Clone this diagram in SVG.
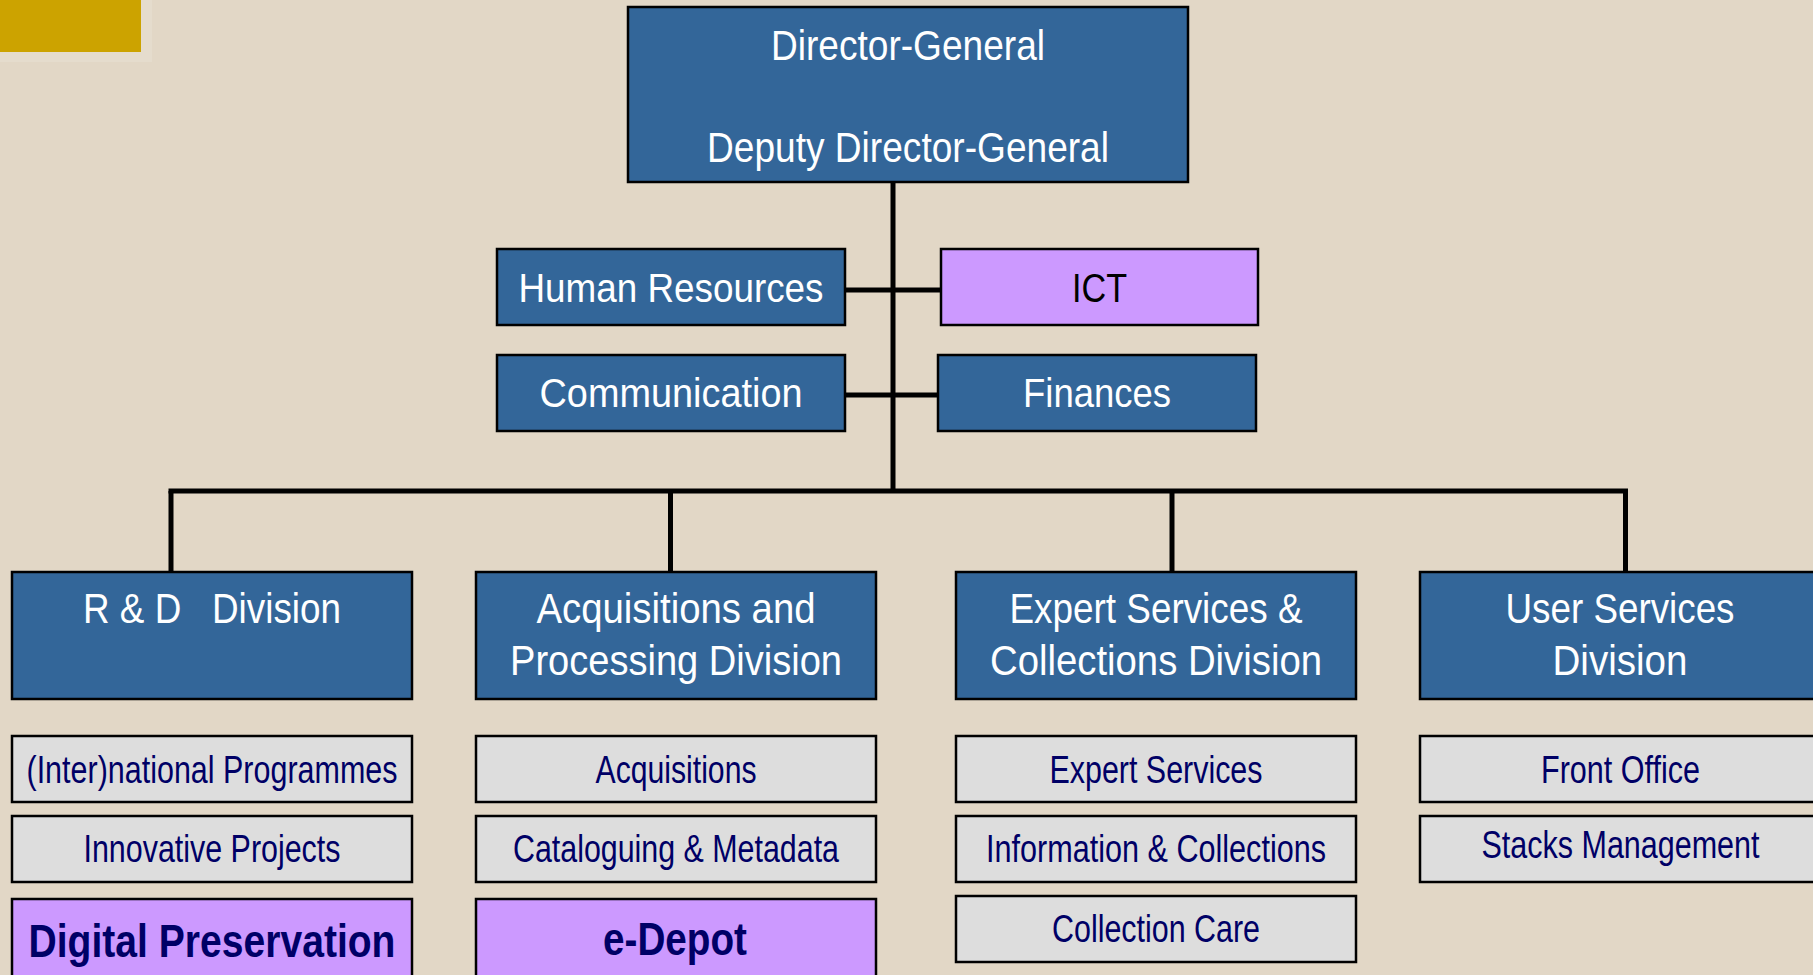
<svg xmlns="http://www.w3.org/2000/svg" width="1813" height="975" viewBox="0 0 1813 975">
<style>
.bg{fill:#E2D7C6}
.box{stroke:#000;stroke-width:2.5}
.blue{fill:#336699}
.grey{fill:#DDDDDD}
.purple{fill:#CC99FF}
text{font-family:"Liberation Sans Narrow","Arial Narrow","Liberation Sans",Arial,sans-serif;text-anchor:middle}
.w{fill:#FFFFFF}
.n{fill:#000066}
.k{fill:#000000}
.t43{font-size:43px}
.t41{font-size:41px}
.t42{font-size:42px}
.t38{font-size:38px}
.b47{font-size:47px;font-weight:bold}
.line{stroke:#000;stroke-width:5;fill:none}
</style>
<rect class="bg" x="0" y="0" width="1813" height="975"/>
<rect x="0" y="0" width="152" height="62" fill="#E5DCCD"/>
<rect x="0" y="0" width="141" height="52" fill="#CCA300"/>

<g id="connectors">
<line class="line" x1="893" y1="182" x2="893" y2="493"/>
<line class="line" x1="845" y1="290" x2="941" y2="290"/>
<line class="line" x1="845" y1="395" x2="938" y2="395"/>
<line class="line" x1="168.5" y1="491" x2="1628" y2="491" stroke-width="6"/>
<line class="line" x1="171" y1="491" x2="171" y2="572"/>
<line class="line" x1="670.5" y1="491" x2="670.5" y2="572"/>
<line class="line" x1="1172" y1="491" x2="1172" y2="572"/>
<line class="line" x1="1625.5" y1="491" x2="1625.5" y2="572"/>
</g>

<g id="director-general">
<rect class="box blue" x="628" y="7" width="560" height="175"/>
<text class="w t43" x="908" y="60" textLength="274" lengthAdjust="spacingAndGlyphs">Director-General</text>
<text class="w t43" x="908" y="162" textLength="402" lengthAdjust="spacingAndGlyphs">Deputy Director-General</text>
</g>

<g id="human-resources">
<rect class="box blue" x="497" y="249" width="348" height="76"/>
<text class="w t41" x="671" y="302" textLength="305" lengthAdjust="spacingAndGlyphs">Human Resources</text>
</g>

<g id="ict">
<rect class="box purple" x="941" y="249" width="317" height="76"/>
<text class="k t41" x="1099.5" y="302" textLength="55" lengthAdjust="spacingAndGlyphs">ICT</text>
</g>

<g id="communication">
<rect class="box blue" x="497" y="355" width="348" height="76"/>
<text class="w t41" x="671" y="407" textLength="263" lengthAdjust="spacingAndGlyphs">Communication</text>
</g>

<g id="finances">
<rect class="box blue" x="938" y="355" width="318" height="76"/>
<text class="w t41" x="1097" y="407" textLength="148" lengthAdjust="spacingAndGlyphs">Finances</text>
</g>

<g id="rd-division">
<rect class="box blue" x="12" y="572" width="400" height="127"/>
<text class="w t42" x="212" y="623" textLength="258" lengthAdjust="spacingAndGlyphs" xml:space="preserve">R &amp; D   Division</text>
</g>

<g id="acq-division">
<rect class="box blue" x="476" y="572" width="400" height="127"/>
<text class="w t42" x="676" y="623" textLength="279" lengthAdjust="spacingAndGlyphs">Acquisitions and</text>
<text class="w t42" x="676" y="675" textLength="332" lengthAdjust="spacingAndGlyphs">Processing Division</text>
</g>

<g id="expert-division">
<rect class="box blue" x="956" y="572" width="400" height="127"/>
<text class="w t42" x="1156" y="623" textLength="293" lengthAdjust="spacingAndGlyphs">Expert Services &amp;</text>
<text class="w t42" x="1156" y="675" textLength="332" lengthAdjust="spacingAndGlyphs">Collections Division</text>
</g>

<g id="user-division">
<rect class="box blue" x="1420" y="572" width="400" height="127"/>
<text class="w t42" x="1620" y="623" textLength="229" lengthAdjust="spacingAndGlyphs">User Services</text>
<text class="w t42" x="1620" y="675" textLength="135" lengthAdjust="spacingAndGlyphs">Division</text>
</g>

<g id="international-programmes">
<rect class="box grey" x="12" y="736" width="400" height="66"/>
<text class="n t38" x="212" y="783" textLength="371" lengthAdjust="spacingAndGlyphs">(Inter)national Programmes</text>
</g>
<g id="innovative-projects">
<rect class="box grey" x="12" y="816" width="400" height="66"/>
<text class="n t38" x="212" y="862" textLength="257" lengthAdjust="spacingAndGlyphs">Innovative Projects</text>
</g>
<g id="digital-preservation">
<rect class="box purple" x="12" y="899" width="400" height="90"/>
<text class="n b47" x="212" y="957" textLength="367" lengthAdjust="spacingAndGlyphs">Digital Preservation</text>
</g>

<g id="acquisitions">
<rect class="box grey" x="476" y="736" width="400" height="66"/>
<text class="n t38" x="676" y="783" textLength="161" lengthAdjust="spacingAndGlyphs">Acquisitions</text>
</g>
<g id="cataloguing">
<rect class="box grey" x="476" y="816" width="400" height="66"/>
<text class="n t38" x="676" y="862" textLength="326" lengthAdjust="spacingAndGlyphs">Cataloguing &amp; Metadata</text>
</g>
<g id="e-depot">
<rect class="box purple" x="476" y="899" width="400" height="90"/>
<text class="n b47" x="675" y="955" textLength="144" lengthAdjust="spacingAndGlyphs">e-Depot</text>
</g>

<g id="expert-services">
<rect class="box grey" x="956" y="736" width="400" height="66"/>
<text class="n t38" x="1156" y="783" textLength="213" lengthAdjust="spacingAndGlyphs">Expert Services</text>
</g>
<g id="information-collections">
<rect class="box grey" x="956" y="816" width="400" height="66"/>
<text class="n t38" x="1156" y="862" textLength="340" lengthAdjust="spacingAndGlyphs">Information &amp; Collections</text>
</g>
<g id="collection-care">
<rect class="box grey" x="956" y="896" width="400" height="66"/>
<text class="n t38" x="1156" y="942" textLength="208" lengthAdjust="spacingAndGlyphs">Collection Care</text>
</g>

<g id="front-office">
<rect class="box grey" x="1420" y="736" width="400" height="66"/>
<text class="n t38" x="1620.5" y="783" textLength="159" lengthAdjust="spacingAndGlyphs">Front Office</text>
</g>
<g id="stacks-management">
<rect class="box grey" x="1420" y="816" width="400" height="66"/>
<text class="n t38" x="1620.5" y="858" textLength="278" lengthAdjust="spacingAndGlyphs">Stacks Management</text>
</g>
</svg>
